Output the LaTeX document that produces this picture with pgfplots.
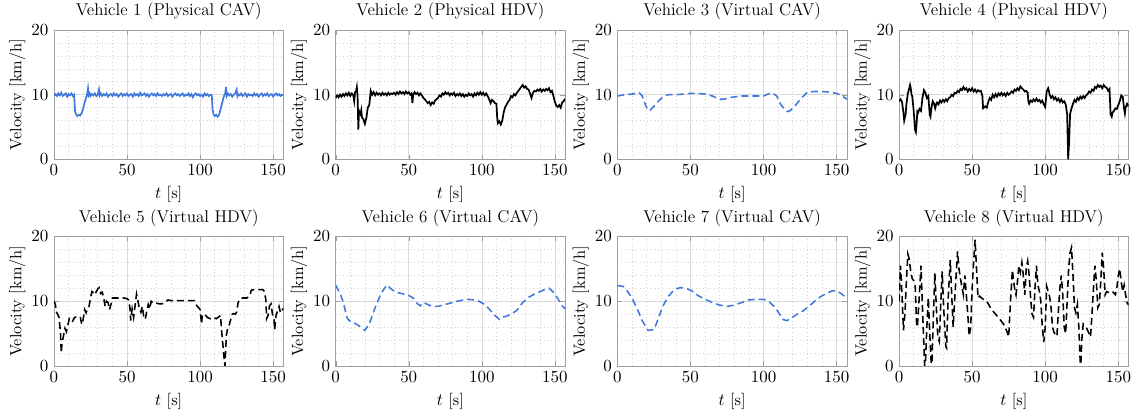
\documentclass[border=0pt]{standalone}
\usepackage{pgfplots}
\pgfplotsset{compat=1.18}
\definecolor{cavblue}{RGB}{65,120,220}
\pgfplotsset{
  veh/.style={
    width=148pt, height=83.5pt, scale only axis,
    anchor=north west,
    xmin=0, xmax=157, ymin=0, ymax=20,
    xtick={0,50,100,150}, ytick={0,10,20},
    minor x tick num=4, minor y tick num=4,
    grid=both,
    major grid style={gray!28, line width=0.4pt},
    minor grid style={gray!35, dotted, line width=0.4pt},
    axis line style={gray!75},
    major tick style={gray!75},
    minor tick length=0pt,
    major tick length=3pt,
    tick align=inside,
    tick label style={font=\fontsize{10.5}{12}\selectfont},
    label style={font=\fontsize{10.5}{12}\selectfont},
    xlabel={$t$ [s]}, ylabel={Velocity [km/h]},
    xlabel style={yshift=0pt},
    ylabel style={yshift=-3pt},
    title style={font=\fontsize{11}{13}\selectfont, yshift=-3pt},
  },
  phys/.style={black, line width=1.1pt},
  physc/.style={cavblue, line width=1.1pt},
  virt/.style={dash pattern=on 4.5pt off 2.6pt, line width=1pt},
}
\begin{document}
\begin{tikzpicture}
\useasboundingbox (-34.8pt,19.35pt) rectangle (694.7pt,-247.0pt);

% Vehicle 1
\begin{axis}[veh, at={(0pt,0pt)}, title={Vehicle 1 (Physical CAV)}]
\addplot[physc] coordinates {
(0,9.9)(1,10.1)(2,9.8)(3,10.2)(4,9.9)(5,10.3)(6,9.8)(7,10.0)(8,10.2)(9,9.7)(10,10.1)(11,9.9)(12,10.2)(13,9.8)(13.8,10.0)(14.4,7.5)(15,7.0)(16,6.7)(17,6.9)(18,6.8)(19,7.2)(20,7.9)(21,8.8)(22,9.5)(22.7,10.1)(23.3,11.0)(23.8,9.9)(24.5,10.2)(25,9.8)(26,10.1)(27,9.9)(28,10.2)(29,9.8)(30,10.0)(30.8,10.8)(31.3,9.9)(32,10.2)(33,9.8)(34,10.1)(35,9.9)(36,10.2)(37,9.7)(38,10.0)(39,10.1)(40,9.8)(41,10.2)(42,9.9)(43,10.1)(44,9.7)(45,10.0)(46,10.2)(47,9.8)(48,10.1)(49,9.9)(50,10.2)(51,9.8)(52,10.0)(53,10.1)(54,9.7)(55,10.2)(56,9.9)(57,10.1)(58,9.8)(59,10.3)(60,9.9)(61,10.0)(62,10.2)(63,9.8)(64,10.1)(65,9.7)(66,10.0)(67,10.2)(68,9.9)(69,10.1)(70,9.8)(71,10.2)(72,9.9)(73,10.0)(74,9.8)(75,10.1)(76,9.9)(77,10.2)(78,9.8)(79,10.0)(80,10.1)(81,9.7)(82,10.0)(83,10.2)(84,9.9)(85,10.1)(86,9.8)(87,10.0)(88,10.2)(89,9.8)(90,10.0)(91,9.9)(92,10.2)(93,9.8)(94,10.1)(95,9.6)(96,10.0)(97,10.2)(98,9.9)(99,10.1)(100,9.8)(101,10.0)(102,9.7)(103,10.2)(104,9.9)(105,10.1)(106,9.8)(107,10.0)(108,9.9)(108.6,7.6)(109.2,7.0)(110,6.7)(111,6.9)(112,6.6)(113,6.9)(113.6,7.4)(114.5,8.2)(115.5,9.1)(116.5,9.9)(117.2,10.2)(117.7,11.2)(118.2,9.8)(119,10.2)(120,9.9)(121,10.1)(122,9.7)(123,10.0)(124,10.2)(125,10.8)(125.5,9.8)(126,10.1)(127,9.9)(128,10.2)(129,9.8)(130,10.0)(131,10.2)(132,9.7)(133,10.1)(134,9.9)(135,10.0)(136,9.8)(137,10.2)(138,9.9)(139,10.1)(140,9.7)(141,10.0)(142,10.2)(143,9.8)(144,10.1)(145,9.9)(146,10.2)(147,9.8)(148,10.0)(149,10.1)(150,9.7)(151,10.0)(152,10.2)(153,9.9)(154,10.1)(155,9.8)(156,10.0)(157,9.9)
};
\end{axis}

% Vehicle 2
\begin{axis}[veh, at={(181.7pt,0pt)}, title={Vehicle 2 (Physical HDV)}]
\addplot[phys] coordinates {
(0,9.5)(1,9.9)(2,9.6)(3,10.0)(4,9.7)(5,10.1)(6,9.8)(7,10.2)(8,9.9)(9,10.3)(10,9.8)(11,10.2)(12,10.0)(12.7,9.0)(13.3,10.4)(14,10.6)(14.5,11.2)(15,9.8)(15.5,4.6)(16,7.5)(17,7.0)(17.5,7.6)(18,6.5)(19,6.2)(20,5.5)(21,6.4)(21.5,7.2)(22,8.0)(23,8.4)(23.5,9.5)(24,10.6)(25,10.0)(26,10.4)(27,9.9)(28,10.3)(29,10.0)(30,10.2)(31,9.9)(32,10.3)(33,10.0)(34,10.2)(35,9.9)(36,10.3)(37,10.0)(38,10.2)(39,10.1)(40,10.3)(41,10.0)(42,10.4)(43,10.1)(44,10.5)(45,10.2)(46,10.4)(47,10.1)(48,10.5)(49,10.2)(50,10.4)(51,10.0)(52,10.2)(52.5,8.7)(53,9.9)(54,10.4)(55,10.1)(56,10.3)(57,9.9)(58,10.2)(59,9.9)(60,9.5)(61,9.3)(62,9.0)(63,8.7)(64,8.9)(65,8.4)(66,8.8)(67,8.6)(68,9.1)(69,9.3)(70,9.5)(71,9.9)(72,9.7)(73,10.2)(74,10.0)(75,10.4)(76,10.1)(77,10.3)(78,9.9)(79,10.2)(80,10.0)(81,10.3)(82,9.8)(83,10.1)(84,9.9)(85,10.2)(86,9.8)(87,10.1)(88,9.7)(89,10.0)(90,9.8)(91,10.2)(92,9.9)(93,10.1)(94,9.7)(95,10.2)(96,9.9)(97,10.3)(98,10.0)(99,10.4)(100,10.0)(101,10.3)(102,9.9)(103,10.2)(104,9.8)(105,9.3)(106,8.7)(107,9.2)(108,9.0)(109,8.7)(110,8.6)(110.5,6.5)(111,5.6)(112,5.9)(113,5.4)(114,6.0)(115,7.3)(116,8.1)(117,8.5)(118,8.9)(119,9.2)(120,9.8)(121,9.6)(122,10.1)(123,9.9)(124,10.3)(125,10.6)(126,10.9)(127,11.2)(128,11.5)(129,11.1)(130,11.3)(131,10.9)(132,10.8)(133,10.2)(134,9.5)(135,10.3)(136,10.6)(137,10.5)(138,10.8)(139,10.6)(140,10.9)(141,10.5)(142,10.8)(143,10.6)(144,10.9)(145,10.7)(146,11.0)(147,10.4)(148,10.6)(149,9.8)(150,8.9)(151,8.3)(152,8.1)(153,8.4)(154,8.0)(155,8.8)(156,9.0)(157,9.4)
};
\end{axis}

% Vehicle 3
\begin{axis}[veh, at={(363.4pt,0pt)}, title={Vehicle 3 (Virtual CAV)}]
\addplot[virt, cavblue] coordinates {
(0,9.8)(5,10.0)(10,10.1)(15,10.3)(17,9.8)(20,8.0)(22,7.5)(25,8.2)(28,9.0)(32,9.8)(35,10.0)(40,10.0)(45,10.1)(50,10.2)(55,10.2)(60,10.1)(65,9.8)(70,9.3)(73,9.3)(78,9.6)(85,9.8)(90,9.8)(95,9.8)(100,9.8)(103,10.1)(106,10.3)(109,9.8)(112,8.4)(116,7.4)(118,7.5)(122,8.4)(126,9.5)(130,10.4)(135,10.5)(140,10.5)(145,10.4)(150,10.2)(154,9.8)(157,9.3)
};
\end{axis}

% Vehicle 4
\begin{axis}[veh, at={(545.1pt,0pt)}, title={Vehicle 4 (Physical HDV)}]
\addplot[phys] coordinates {
(0,9.0)(1,9.3)(2,8.9)(3,7.2)(3.5,6.0)(4.5,7.0)(5,8.5)(6,10.2)(7,11.0)(7.5,11.5)(8,11.0)(8.5,10.0)(9,9.8)(10,7.5)(11,4.5)(11.5,4.2)(12,5.5)(12.5,7.4)(13,7.2)(14,7.8)(15,7.5)(16,9.5)(17,10.7)(18,10.3)(19,9.5)(20,9.8)(21,6.9)(21.5,6.6)(22,7.8)(23,9.0)(24,8.6)(24.7,7.9)(25.5,8.6)(26,8.8)(27,8.5)(28,9.1)(29,8.8)(30,9.2)(31,8.9)(32,9.3)(33,9.0)(34,9.5)(35,9.6)(36,10.0)(37,9.8)(38,10.3)(39,10.2)(40,10.6)(41,10.4)(42,10.9)(43,10.7)(44,11.2)(45,10.8)(46,11.0)(47,10.5)(48,10.9)(49,10.6)(50,11.0)(51,10.5)(52,10.8)(53,10.4)(54,10.7)(55,10.5)(56,10.6)(57,9.8)(57.5,7.9)(58,8.0)(59,8.2)(60,8.0)(61,8.9)(62,9.5)(63,9.2)(64,10.0)(65,9.6)(66,10.1)(67,9.7)(68,10.2)(69,9.9)(70,10.3)(71,9.9)(72,10.2)(73,9.8)(74,10.3)(75,10.0)(76,10.2)(77,10.5)(78,10.3)(79,10.8)(80,10.6)(81,11.0)(82,10.7)(83,11.3)(84,11.0)(85,10.8)(86,10.5)(87,10.6)(88,10.3)(88.5,8.9)(89,8.6)(90,9.1)(91,8.9)(92,9.3)(93,9.0)(94,9.4)(95,9.0)(96,9.2)(97,8.8)(98,9.1)(99,8.5)(100,8.1)(100.5,9.3)(101,10.5)(102,11.0)(102.5,10.6)(103,10.0)(104,9.5)(105,9.8)(106,9.3)(107,9.6)(108,9.1)(109,9.4)(110,8.9)(111,9.3)(112,8.8)(113,9.0)(114,8.5)(115,7.0)(115.7,0.0)(116.4,3.0)(117,7.0)(118,7.9)(119,8.6)(120,9.2)(121,8.9)(122,9.5)(123,9.2)(124,9.7)(125,9.4)(126,9.8)(127,9.5)(128,9.9)(129,10.1)(130,10.5)(131,10.3)(132,10.8)(133,10.6)(134,11.2)(135,11.0)(136,11.5)(137,11.2)(138,11.4)(139,11.0)(140,11.5)(141,11.2)(142,11.1)(143,10.6)(144,10.9)(144.7,7.0)(145.5,6.6)(146,7.2)(147,7.5)(148,7.9)(149,7.8)(150,8.4)(151,9.0)(152,9.9)(153,9.7)(154,7.8)(154.5,7.1)(155,8.0)(156,8.6)(157,8.2)
};
\end{axis}

% Vehicle 5
\begin{axis}[veh, at={(0pt,-133.2pt)}, title={Vehicle 5 (Virtual HDV)}]
\addplot[virt, black] coordinates {
(0,10.0)(1,9.5)(1.5,8.4)(2.5,8.0)(3.5,7.5)(4.5,5.0)(5,2.0)(5.5,3.5)(6.5,4.6)(7.5,5.8)(8.5,5.3)(9.5,6.3)(10.5,7.3)(11.5,7.0)(12.5,6.8)(14,7.5)(16,7.6)(18,7.6)(19,6.4)(20,7.2)(21,8.7)(22,8.2)(23,8.9)(24,9.2)(25,10.5)(26,11.5)(27,11.3)(28,11.0)(29,11.5)(30,11.9)(31,12.1)(32,11.2)(33,11.4)(34,10.6)(35,9.2)(36,10.0)(37,9.8)(38,8.7)(39,9.5)(40,10.5)(42,10.5)(44,10.5)(46,10.5)(48,10.5)(50,10.4)(51,10.2)(52,9.0)(52.5,7.0)(53.5,8.8)(54.5,7.5)(55.5,9.3)(56.5,11.1)(57.5,10.0)(58.5,8.8)(59.5,8.3)(60.5,9.2)(61.5,7.5)(62.5,7.2)(63.5,8.5)(64.5,9.5)(65.5,8.8)(66.5,10.0)(68,9.7)(70,9.7)(72,9.6)(74,9.6)(76,9.8)(78,10.2)(80,10.1)(84,10.1)(88,10.1)(92,10.1)(96,10.1)(97,9.5)(99,9.0)(100,8.7)(101,6.5)(101.5,7.9)(103,8.0)(105,7.5)(107,7.3)(109,7.5)(111,7.3)(113,7.6)(114,7.8)(114.5,6.0)(115.5,3.5)(116.5,1.0)(117,0)(117.5,2.5)(118,4.8)(119,6.0)(120,6.4)(121,7.2)(122,8.0)(123,8.1)(124,8.0)(125,8.3)(126,9.8)(127,10.2)(128,10.5)(130,10.5)(132,10.5)(134,10.8)(135,11.7)(137,11.8)(139,11.8)(141,11.8)(143,11.8)(144,11.5)(145,10.2)(145.5,7.3)(146.5,7.8)(147.5,9.3)(148.5,9.6)(149.5,8.0)(150.5,7.5)(151,5.6)(152,7.9)(153,8.5)(154,9.2)(155,8.2)(156,8.6)(157,8.9)
};
\end{axis}

% Vehicle 6
\begin{axis}[veh, at={(181.7pt,-133.2pt)}, title={Vehicle 6 (Virtual CAV)}]
\addplot[virt, cavblue] coordinates {
(0,12.5)(3,11.2)(5,10)(8,7.3)(10,6.9)(13,6.6)(16,6.2)(20,5.5)(23,6.5)(27,9.0)(31,11.2)(35,12.5)(38,11.9)(41,11.4)(45,11.2)(50,10.9)(53,10.5)(56,9.6)(58,9.3)(60,9.8)(63,9.5)(66,9.2)(70,9.2)(75,9.5)(80,9.8)(85,10.1)(90,10.3)(95,10.2)(98,10.0)(102,9.5)(105,8.8)(109,7.8)(112,7.2)(114,7.5)(117,7.7)(120,8.0)(124,8.6)(128,9.8)(132,10.6)(136,11.1)(140,11.5)(144,11.9)(146,12.0)(149,11.4)(152,10.4)(155,9.3)(157,8.8)
};
\end{axis}

% Vehicle 7
\begin{axis}[veh, at={(363.4pt,-133.2pt)}, title={Vehicle 7 (Virtual CAV)}]
\addplot[virt, cavblue] coordinates {
(0,12.4)(4,12.3)(7,11.5)(10,10.5)(14,8.6)(17,7.0)(21,5.5)(25,5.6)(28,7.3)(31,9.2)(35,10.8)(39,11.8)(43,12.1)(47,12.0)(51,11.6)(55,10.9)(60,10.3)(65,9.8)(70,9.4)(75,9.2)(80,9.4)(85,9.8)(90,10.2)(95,10.3)(100,10.3)(104,9.9)(108,9.0)(111,8.0)(113,7.2)(116,7.0)(119,7.4)(123,8.0)(127,8.5)(131,9.2)(135,10.0)(139,10.7)(143,11.2)(147,11.6)(150,11.6)(153,11.2)(157,10.5)
};
\end{axis}

% Vehicle 8
\begin{axis}[veh, at={(545.1pt,-133.2pt)}, title={Vehicle 8 (Virtual HDV)}]
\addplot[virt, black] coordinates {
(0,10.0)(0.5,13)(1,15.5)(2,11)(3,5.5)(4,8)(5,13)(6,17.3)(7,16.5)(8,14.5)(9,13.5)(10,13.2)(11,12.5)(12,6.5)(12.5,6.0)(13.5,9.5)(15,15.5)(16,9)(17.5,0)(18,0.3)(19,6)(20,10.5)(21,5)(22,0.3)(22.5,0.6)(23.5,8)(24.5,14.3)(25.5,9)(26.5,4.5)(27.5,3.8)(28.5,9.5)(29.5,14.6)(30.5,9)(32,3)(32.5,2.8)(33.5,10)(35,16.4)(36,11)(37,6)(38,10)(40,17.7)(41,15)(42,13.5)(43,12.2)(44,11)(45,14)(46,11)(47,8)(48,4.6)(49,6)(50,12)(51,16)(52,19.5)(53,15)(54,10.5)(55,10.8)(57,10.4)(60,10.0)(63,8.8)(66,8.0)(69,7.2)(72,6.3)(74,5.2)(75,4.5)(76,9)(77.5,14.8)(79,12)(80,11)(81,13)(82,15.5)(83,14.5)(84,16)(85,14)(86,11)(87,15)(88,16.2)(89,14)(90,10.5)(91,8)(92,7.5)(93,12)(94,15.5)(95,12.5)(96,11.5)(97,10)(98,6)(99,3.7)(100,6)(101,12.3)(102,11.5)(103,10.7)(104,9)(105,6)(106,5.2)(107,4.8)(108,4.6)(109,8.5)(110,12)(111,14)(112,11)(113,6)(114,5)(115,10)(116,15)(117,17.5)(118,18.3)(119,14)(120,9)(121,8.2)(122,9.5)(123,6)(124,0.2)(124.5,0.8)(125,4)(126,6.5)(128,6)(130,5)(131,4.5)(132,8)(133,12)(134,15.5)(135,13)(136,9)(137,9.5)(138,13)(139,17.5)(140,15)(141,11)(142,11.5)(144,11.3)(146,11.5)(148,11)(149,12)(150,14)(151,15)(152,13)(153,11.5)(154,12.5)(155,11)(156,9.8)(157,9.4)
};
\end{axis}
\end{tikzpicture}
\end{document}
